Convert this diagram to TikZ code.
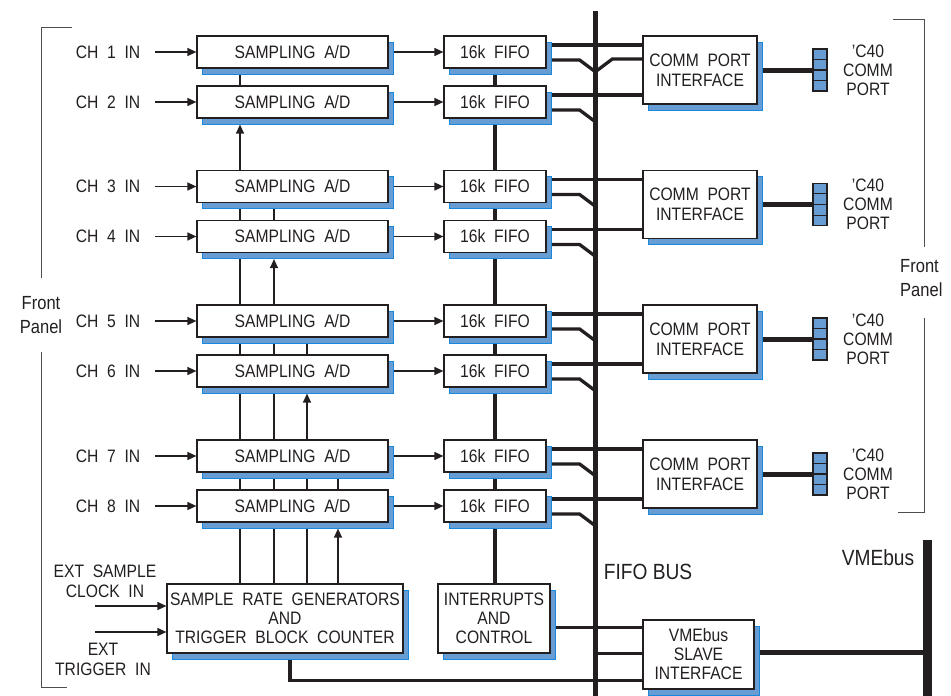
\documentclass[tikz,border=0pt]{standalone}
\usepackage{fontspec}
\setmainfont{Liberation Sans}[FakeStretch=0.87,WordSpace=2.0]
\newfontfamily\lblfont{Liberation Sans}[FakeStretch=0.87]
\usetikzlibrary{arrows.meta,shadows,calc}
\definecolor{shfill}{RGB}{104,157,212}
\definecolor{shedge}{RGB}{24,137,221}
\definecolor{ink}{RGB}{35,31,32}
\pgfdeclarelayer{background}
\pgfsetlayers{background,main}
\begin{document}
\begin{tikzpicture}[x=1pt,y=-1pt,
  box/.style={draw=ink,line width=1.2pt,fill=white,inner sep=0pt,align=center,text=ink,
    font=\fontsize{18}{19}\selectfont,
    drop shadow={shadow xshift=5pt,shadow yshift=-6pt,fill=shfill,draw=shedge,line width=1pt,opacity=1}},
  adbox/.style={box,minimum width=191pt,minimum height=32pt},
  fifobox/.style={box,minimum width=102pt,minimum height=32pt},
  cpbox/.style={box,minimum width=114pt,minimum height=68pt,font=\fontsize{18}{20}\selectfont},
  bigbox/.style={box,minimum height=69pt},
  portbox/.style={draw=ink,line width=1.2pt,fill=shfill,minimum width=14pt,minimum height=42pt,inner sep=0pt},
  lbl/.style={text=ink,inner sep=0pt,align=center,font=\fontsize{18}{19}\selectfont},
  biglbl/.style={text=ink,inner sep=0pt,align=center,font=\lblfont\fontsize{22}{24}\selectfont},
  panellbl/.style={text=ink,inner sep=0pt,font=\lblfont\fontsize{19}{24}\selectfont},
  arr/.style={draw=ink,line width=1.3pt,-{Triangle[length=9pt,width=8pt]}},
  thinline/.style={draw=ink,line width=1.3pt},
  fout/.style={draw=ink,line width=3.3pt},
  bracket/.style={draw=ink!80,line width=1pt}
]
\useasboundingbox (0,0) rectangle (951,696);

% coordinates
\coordinate (bustop) at (595,11);
\coordinate (busbot) at (595,696);
\coordinate (vmetop) at (927,540);
\coordinate (vmebot) at (927,696);
\coordinate (xa) at (240,0);
\coordinate (xb) at (274,0);
\coordinate (xc) at (307,0);
\coordinate (xd) at (338,0);
\coordinate (clkin) at (95,606);
\coordinate (trigin) at (95,632);

% rows
\foreach \i/\y in {1/52,2/102,3/186.5,4/236.5,5/321,6/371,7/456,8/506} {
  \node[adbox] (ad\i) at (292.5,\y) {SAMPLING A/D};
  \node[fifobox] (f\i) at (495,\y) {16k FIFO};
  \node[lbl] (ch\i) at (108,\y) {CH \i{} IN};
  \coordinate (in\i) at (155,\y);
}

% comm ports
\foreach \k/\y in {1/70,2/204.5,3/339,4/474} {
  \node[cpbox] (cp\k) at (700,\y) {COMM PORT\\INTERFACE};
  \node[portbox] (port\k) at (820,\y) {};
  \node[lbl] (c40\k) at (868,\y) {’C40\\COMM\\PORT};
}
\foreach \k in {1,...,4}
  \foreach \f in {0.25,0.5,0.75}
    \draw[line width=1.2pt,ink] ($(port\k.north west)!\f!(port\k.south west)$) -- ($(port\k.north east)!\f!(port\k.south east)$);

% bottom blocks
\node[bigbox,minimum width=236pt] (srg) at (285,618.5) {SAMPLE RATE GENERATORS\\AND\\TRIGGER BLOCK COUNTER};
\node[bigbox,minimum width=112pt] (irq) at (494,618.5) {INTERRUPTS\\AND\\CONTROL};
\node[bigbox,minimum width=111pt] (vme) at (698.5,654.5) {VMEbus\\SLAVE\\INTERFACE};

% labels
\node[lbl,font=\fontsize{18}{20}\selectfont] (clklbl) at (105,581) {EXT SAMPLE\\CLOCK IN};
\node[lbl,font=\fontsize{18}{20}\selectfont] (triglbl) at (103,659) {EXT\\TRIGGER IN};
\node[biglbl] (fifobuslbl) at (648,572) {FIFO BUS};
\node[biglbl] (vmebuslbl) at (878,558) {VMEbus};
\node[panellbl,align=center] (fpl) at (41,315) {Front\\Panel};
\node[panellbl,align=left,anchor=west] (fpr) at (900,278) {Front\\Panel};

% brackets
\draw[bracket] (72,27) -- (41,27) -- (41,278);
\draw[bracket] (41,352) -- (41,687) -- (67,687);
\draw[bracket] (893,19) -- (924,19) -- (924,247);
\draw[bracket] (924,318) -- (924,512) -- (898,512);

\begin{pgfonlayer}{background}
  \draw[ink,line width=5pt] (bustop) -- (busbot);
  \draw[ink,line width=9pt] (vmetop) -- (vmebot);
  \draw[ink,line width=4pt] (f1.center) -- (f1.center |- irq.center);
  \foreach \i/\k in {1/1,2/1,3/2,4/2,5/3,6/3,7/4,8/4} {
    \draw[arr] (in\i) -- (ad\i.west);
    \draw[arr] (ad\i.east) -- (f\i.west);
    \path ($(f\i.east)+(0,-7)$) coordinate (t\i);
    \draw[fout] (t\i) -- (t\i -| cp\k.west);
    \draw[fout] ($(f\i.east)+(0,8)$) -- ++(33,0) -- ++(16,12);
  }
  \draw[fout] ($(cp1.west)+(0,-11)$) -- ++(-30,0) -- ++(-16,12);
  \foreach \k in {1,...,4}
    \draw[ink,line width=5pt] (cp\k.east) -- (port\k.west);
  % clock tree
  \draw[thinline] (ad1.south -| xa) -- (ad2.north -| xa);
  \draw[arr] (ad3.north -| xa) -- ($(ad2.south -| xa)+(0,6)$);
  \draw[thinline] (ad3.south -| xa) -- (srg.north -| xa);
  \draw[thinline] (ad3.south -| xb) -- (ad4.north -| xb);
  \draw[arr] (ad5.north -| xb) -- ($(ad4.south -| xb)+(0,6)$);
  \draw[thinline] (ad5.south -| xb) -- (srg.north -| xb);
  \draw[thinline] (ad5.south -| xc) -- (ad6.north -| xc);
  \draw[arr] (ad7.north -| xc) -- ($(ad6.south -| xc)+(0,6)$);
  \draw[thinline] (ad7.south -| xc) -- (srg.north -| xc);
  \draw[thinline] (ad7.south -| xd) -- (ad8.north -| xd);
  \draw[arr] (srg.north -| xd) -- ($(ad8.south -| xd)+(0,6)$);
  % ext inputs
  \draw[arr] (clkin) -- (clkin -| srg.west);
  \draw[arr] (trigin) -- (trigin -| srg.west);
  % bottom connections
  \draw[ink,line width=3.5pt] ($(srg.south)+(5,0)$) |- ($(vme.south west)+(0,-9)$);
  \draw[ink,line width=3pt] ($(bustop |- vme.west)+(0,-1.5)$) -- ($(vme.west)+(0,-1.5)$);
  \path ($(irq.east)+(0,8.5)$) coordinate (ie);
  \draw[ink,line width=3pt] (ie) -- (ie -| vme.west);
  \draw[ink,line width=5.5pt] ($(vme.east)+(0,-2)$) -- ($(vme.east -| vmetop)+(0,-2)$);
\end{pgfonlayer}
\end{tikzpicture}
\end{document}
